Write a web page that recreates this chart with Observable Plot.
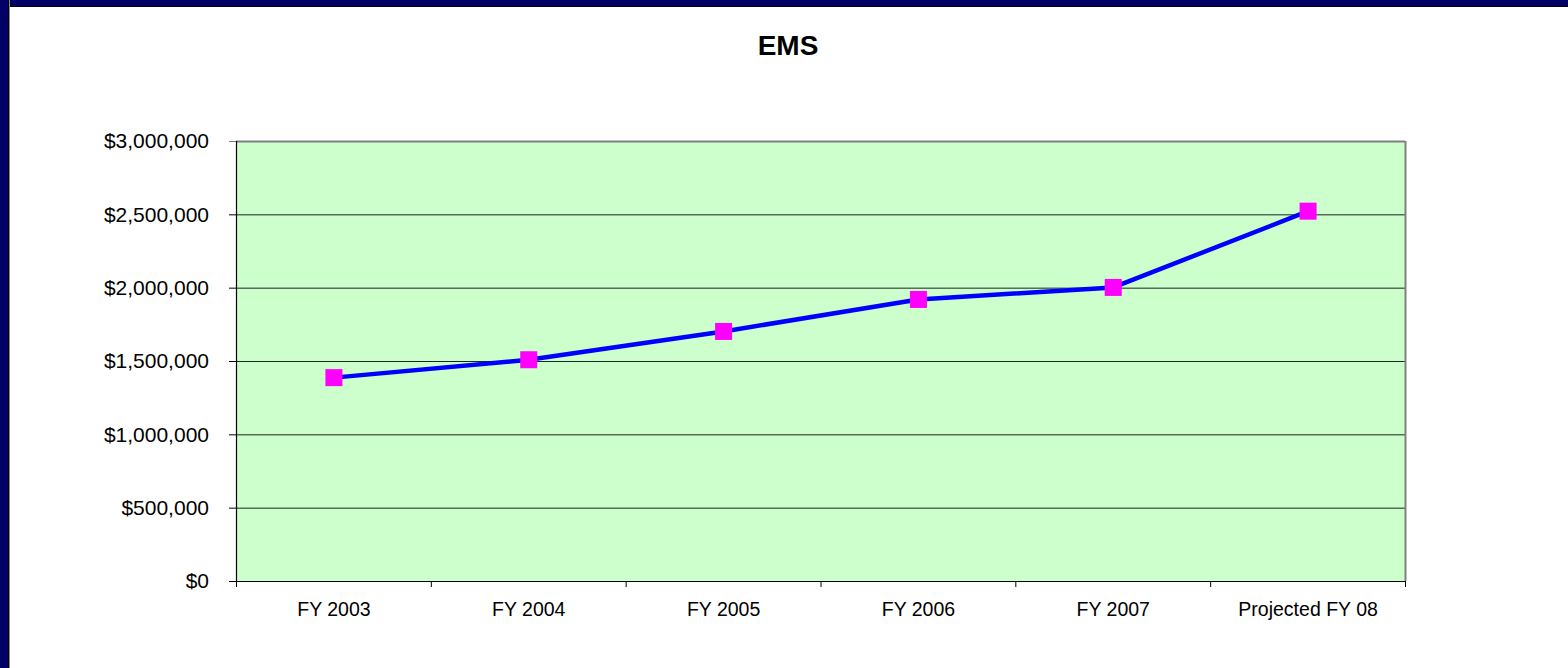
<!DOCTYPE html>
<html>
<head>
<meta charset="utf-8">
<script src="https://cdn.jsdelivr.net/npm/d3@7"></script>
<script src="https://cdn.jsdelivr.net/npm/@observablehq/plot@0.6"></script>
<style>
  html, body { margin: 0; padding: 0; background: #fff; width: 1568px; height: 668px; overflow: hidden; }
  #wrap { position: relative; width: 1568px; height: 668px; font-family: Arial, "Liberation Sans", sans-serif; }
  #chart { position: absolute; left: 0; top: 0; }
  #title { position: absolute; left: 8px; right: 0; top: 32px; text-align: center; font: bold 28px/28px Arial, "Liberation Sans", sans-serif; color: #000; }
  #bandTop { position: absolute; left: 0; top: 0; width: 1568px; height: 6px; background: #000066; border-bottom: 1px solid #000; }
  #bandLeft { position: absolute; left: 0; top: 0; width: 8px; height: 668px; background: #000066; border-right: 1px solid #000; box-shadow: 1px 0 0 #888; }
</style>
</head>
<body>
<div id="wrap">
  <div id="chart"></div>
  <div id="title">EMS</div>
  <div id="bandTop"></div>
  <div id="bandLeft"></div>
</div>
<script>
const categories = ["FY 2003", "FY 2004", "FY 2005", "FY 2006", "FY 2007", "Projected FY 08"];
const values = [1390000, 1512000, 1705000, 1923000, 2005000, 2525000];
const yTicks = [0, 500000, 1000000, 1500000, 2000000, 2500000, 3000000];

const W = 1568, H = 668;
const mL = 236, mR = 163, mT = 141, mB = 87;
const bw = (W - mL - mR) / categories.length;
const data = categories.map((c, i) => ({cat: c, value: values[i]}));
const fmt = d => "$" + d3.format(",")(d);
const first = categories[0];
const last = categories[categories.length - 1];

const plot = Plot.plot({
  width: W,
  height: H,
  marginLeft: mL,
  marginRight: mR,
  marginTop: mT,
  marginBottom: mB,
  style: {background: "transparent", fontFamily: "Arial, 'Liberation Sans', sans-serif", color: "#000"},
  x: {type: "band", domain: categories, padding: 0, round: false, axis: null},
  y: {domain: [0, 3000000], axis: null},
  marks: [
    Plot.frame({fill: "#CCFFCC", stroke: "none"}),
    Plot.gridY(yTicks, {stroke: "#222", strokeOpacity: 1}),
    Plot.axisY(yTicks.slice(0, -1), {tickSize: 7, tickPadding: 20.5, tickFormat: fmt, fontSize: 21, label: null, stroke: "#000"}),
    Plot.axisY(yTicks.slice(-1), {tickSize: 7, tickPadding: 20.5, tickFormat: fmt, fontSize: 21, label: null, stroke: "#808080"}),
    Plot.axisX(categories, {tickSize: 0, tickPadding: 21, fontSize: 19.5, label: null}),
    Plot.ruleX(categories, {x: d => d, y1: 0, y2: 0, insetBottom: -6, dx: -bw / 2, stroke: "#000"}),
    Plot.ruleX([last], {x: d => d, y1: 0, y2: 0, insetBottom: -6, dx: bw / 2, stroke: "#000"}),
    Plot.ruleY([3000000], {stroke: "#808080", strokeWidth: 2}),
    Plot.ruleX([last], {x: d => d, y1: 0, y2: 3000000, dx: bw / 2, stroke: "#808080", strokeWidth: 2}),
    Plot.ruleX([first], {x: d => d, y1: 0, y2: 3000000, dx: -bw / 2, stroke: "#000", strokeWidth: 1.2}),
    Plot.ruleY([0], {stroke: "#000", strokeWidth: 1.2}),
    Plot.line(data, {x: "cat", y: "value", stroke: "#0000FF", strokeWidth: 4.5}),
    Plot.dot(data, {x: "cat", y: "value", symbol: "square", r: 9.6, fill: "#FF00FF", stroke: "none"})
  ]
});
document.getElementById("chart").appendChild(plot);
</script>
</body>
</html>
